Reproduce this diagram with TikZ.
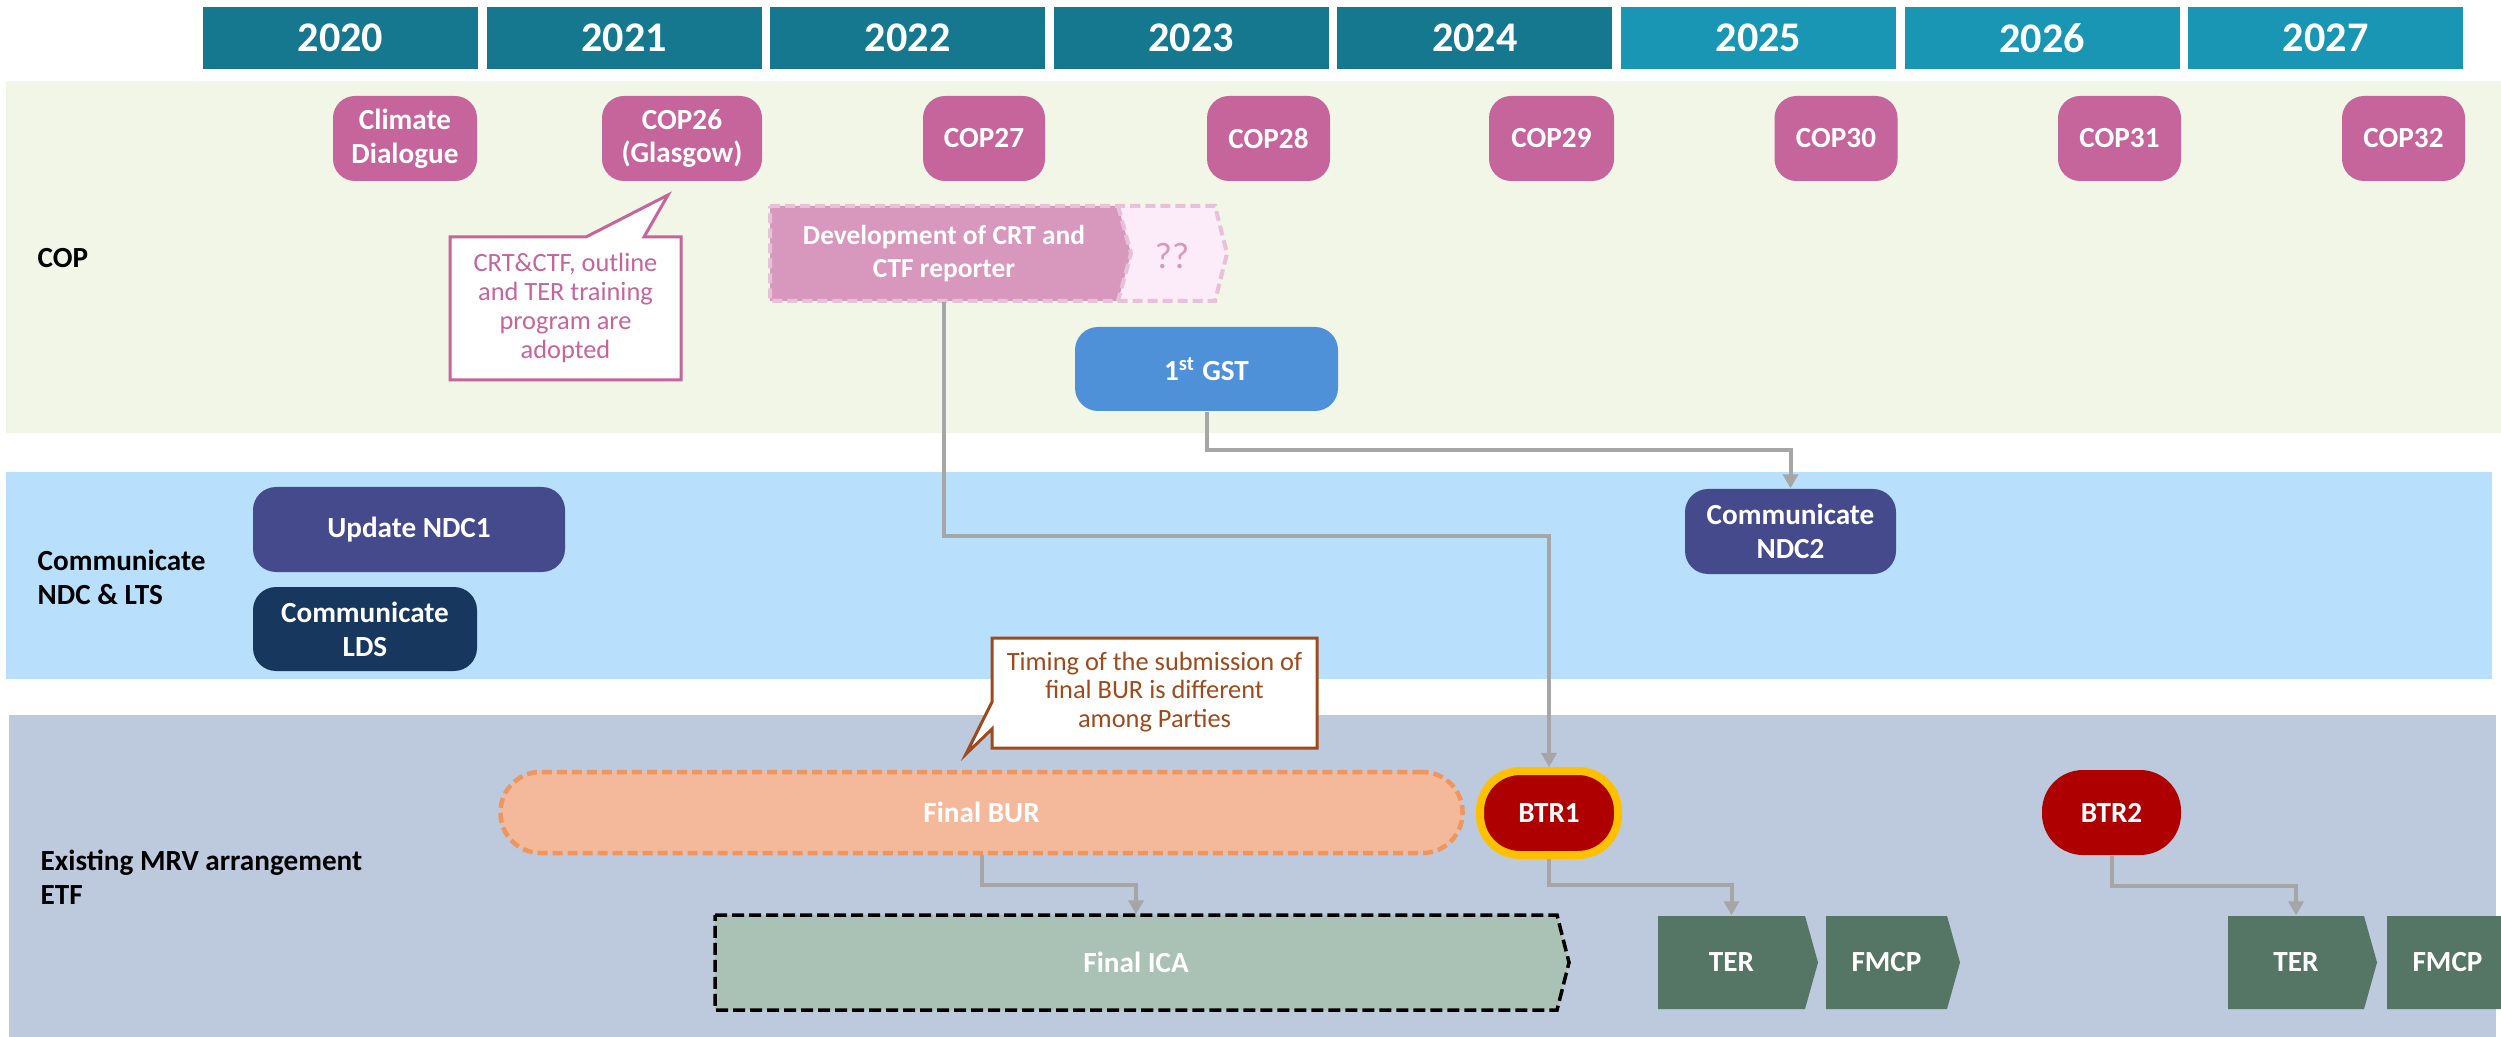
\documentclass[tikz,border=0pt]{standalone}
\usepackage{fontspec}
\setmainfont{Carlito}
\usetikzlibrary{arrows.meta}
\definecolor{yrdark}{HTML}{15788E}
\definecolor{yrlight}{HTML}{1896B3}
\definecolor{copband}{HTML}{F1F6E7}
\definecolor{ndcband}{HTML}{B8DFFC}
\definecolor{etfband}{HTML}{BDC9DC}
\definecolor{copc}{HTML}{C6649C}
\definecolor{devpink}{HTML}{D898BE}
\definecolor{devlight}{HTML}{FCEBF8}
\definecolor{devdash}{HTML}{E8C0D8}
\definecolor{gstc}{HTML}{4E91D9}
\definecolor{ndcc}{HTML}{444A8B}
\definecolor{ldsc}{HTML}{17375E}
\definecolor{brownc}{HTML}{9E4A1C}
\definecolor{burfill}{HTML}{F4B99A}
\definecolor{burline}{HTML}{EE965F}
\definecolor{btrred}{HTML}{AE0000}
\definecolor{btryel}{HTML}{FFC000}
\definecolor{icafill}{HTML}{AAC1B6}
\definecolor{terc}{HTML}{557565}
\definecolor{connc}{HTML}{A6A6A6}
\tikzset{
  sz/.style 2 args={minimum width=#1*0.01cm, minimum height=#2*0.01cm},
  lbl/.style={font=\fontsize{8.3}{9.6}\selectfont\bfseries, text=white, align=center, inner sep=0pt},
  yearbox/.style={sz={275}{62}, inner sep=0pt, text=white, font=\fontsize{12}{14}\selectfont\bfseries},
  copbox/.style={lbl, fill=copc, rounded corners=0.22cm},
  rowlabel/.style={font=\fontsize{8.3}{9.6}\selectfont\bfseries, text=black, align=left, anchor=west, inner sep=0pt},
  callout/.style={font=\fontsize{7.5}{8.2}\selectfont, align=center, inner sep=0pt},
  conn/.style={draw=connc, line width=0.04cm, -{Triangle[width=0.15cm,length=0.14cm]}},
  devdashed/.style={draw=devdash, line width=0.04cm, dash pattern=on 0.1cm off 0.05cm},
}
\begin{document}
\begin{tikzpicture}[x=0.01cm,y=-0.01cm]
\path[use as bounding box] (0,0) rectangle (2501,1037);
\clip (0,0) rectangle (2501,1037);
% bands
\fill[copband] (6,81) rectangle (2501,433);
\fill[ndcband] (6,472) rectangle (2492,679);
\fill[etfband] (9,715) rectangle (2496,1037);
% years
\foreach \i/\yr in {0/2020,1/2021,2/2022,3/2023,4/2024}
  \node[yearbox, fill=yrdark] (y\yr) at ({340.5+283.6*\i},38) {\yr};
\foreach \i/\yr in {5/2025,6/2026,7/2027}
  \node[yearbox, fill=yrlight] (y\yr) at ({340.5+283.6*\i},38) {\yr};
% row labels
\node[rowlabel] (lcop) at (37,258) {COP};
\node[rowlabel] (lndc) at (37,577) {Communicate\\NDC \& LTS};
\node[rowlabel] (letf) at (40,877) {Existing MRV arrangement\\ETF};
% COP nodes
\node[copbox, sz={144}{85}] (cd) at (405,138.5) {Climate\\Dialogue};
\node[copbox, sz={160}{85}] (cop26) at (682,138.5) {COP26\\(Glasgow)};
\node[copbox, sz={122}{85}] (cop27) at (984,138.5) {COP27};
\node[copbox, sz={123}{85}] (cop28) at (1268.5,138.5) {COP28};
\node[copbox, sz={125}{85}] (cop29) at (1551.5,138.5) {COP29};
\node[copbox, sz={123}{85}] (cop30) at (1836,138.5) {COP30};
\node[copbox, sz={123}{85}] (cop31) at (2119.5,138.5) {COP31};
\node[copbox, sz={123}{85}] (cop32) at (2403.5,138.5) {COP32};
% callout 1
\draw[draw=copc, fill=white, line width=0.03cm] (450,237) -- (586,237) -- (668,195) -- (644,237) -- (681,237) -- (681,380) -- (450,380) -- cycle;
\node[callout, text=copc] (call1) at (565.5,308) {CRT\&CTF, outline\\and TER training\\program are\\adopted};
% development box
\fill[devlight] (770,206) -- (1215,206) -- (1227,253.5) -- (1215,301) -- (770,301) -- cycle;
\fill[devpink] (770,206) -- (1118,206) -- (1131,253.5) -- (1118,301) -- (770,301) -- cycle;
\draw[devdashed] (770,206) -- (1215,206) -- (1227,253.5) -- (1215,301) -- (770,301) -- cycle;
\draw[devdashed] (1118,206) -- (1131,253.5) -- (1118,301);
\node[lbl, sz={348}{95}, font=\fontsize{7.8}{9.2}\selectfont\bfseries] (dev) at (944,253.5) {Development of CRT and\\CTF reporter};
\node[inner sep=0pt, text=devpink, font=\fontsize{10.5}{12}\selectfont] (qq) at (1172,256) {??};
% GST
\node[lbl, fill=gstc, sz={263}{84}, rounded corners=0.23cm] (gst) at (1206.5,369) {1\textsuperscript{st} GST};
% NDC row
\node[lbl, fill=ndcc, sz={312}{85}, rounded corners=0.23cm] (ndc1) at (409,529.5) {Update NDC1};
\node[lbl, fill=ldsc, sz={224}{84}, rounded corners=0.23cm] (lds) at (365,629) {Communicate\\LDS};
\node[lbl, fill=ndcc, sz={211}{85}, rounded corners=0.23cm] (ndc2) at (1790.5,531.5) {Communicate\\NDC2};
% callout 2
\draw[draw=brownc, fill=white, line width=0.03cm] (992,638) -- (1317,638) -- (1317,748) -- (992,748) -- (992,729) -- (966,754) -- (992,702) -- cycle;
\node[callout, text=brownc] (call2) at (1154.5,692) {Timing of the submission of\\final BUR is different\\among Parties};
% ETF row
\node[lbl, fill=burfill, draw=burline, line width=0.045cm, dash pattern=on 0.1cm off 0.05cm, sz={962}{81}, rounded corners=0.40cm] (bur) at (981.5,812.5) {Final BUR};
\node[lbl, fill=btrred, draw=btryel, line width=0.08cm, sz={138}{84}, rounded corners=0.40cm] (btr1) at (1549,813) {BTR1};
\node[lbl, fill=btrred, sz={139}{85}, rounded corners=0.41cm] (btr2) at (2111.5,812.5) {BTR2};
\draw[fill=icafill, draw=black, line width=0.035cm, dash pattern=on 0.12cm off 0.05cm] (715,915) -- (1557,915) -- (1569,962.5) -- (1557,1010) -- (715,1010) -- cycle;
\node[lbl, sz={842}{95}] (ica) at (1136,962.5) {Final ICA};
\fill[terc] (1658,916) -- (1805,916) -- (1818,962.5) -- (1805,1009) -- (1658,1009) -- cycle;
\node[lbl, sz={147}{93}] (ter1) at (1731.5,962.5) {TER};
\fill[terc] (1826,916) -- (1947,916) -- (1960,962.5) -- (1947,1009) -- (1826,1009) -- cycle;
\node[lbl, sz={121}{93}] (fmcp1) at (1886.5,962.5) {FMCP};
\fill[terc] (2228,916) -- (2364,916) -- (2377,962.5) -- (2364,1009) -- (2228,1009) -- cycle;
\node[lbl, sz={136}{93}] (ter2) at (2296,962.5) {TER};
\fill[terc] (2387,916) -- (2508,916) -- (2521,962.5) -- (2508,1009) -- (2387,1009) -- cycle;
\node[lbl, sz={121}{93}] (fmcp2) at (2447.5,962.5) {FMCP};
% connectors
\draw[conn] (dev.south) -- ++(0,234) -| (btr1.north);
\draw[conn] (gst.south) -- ++(0,38) -| (ndc2.north);
\draw[conn] (bur.south) -- ++(0,30) -| (ica.north);
\draw[conn] (btr1.south) -- ++(0,26) -| (ter1.north);
\draw[conn] (btr2.south) -- ++(0,30) -| (ter2.north);
\end{tikzpicture}
\end{document}
